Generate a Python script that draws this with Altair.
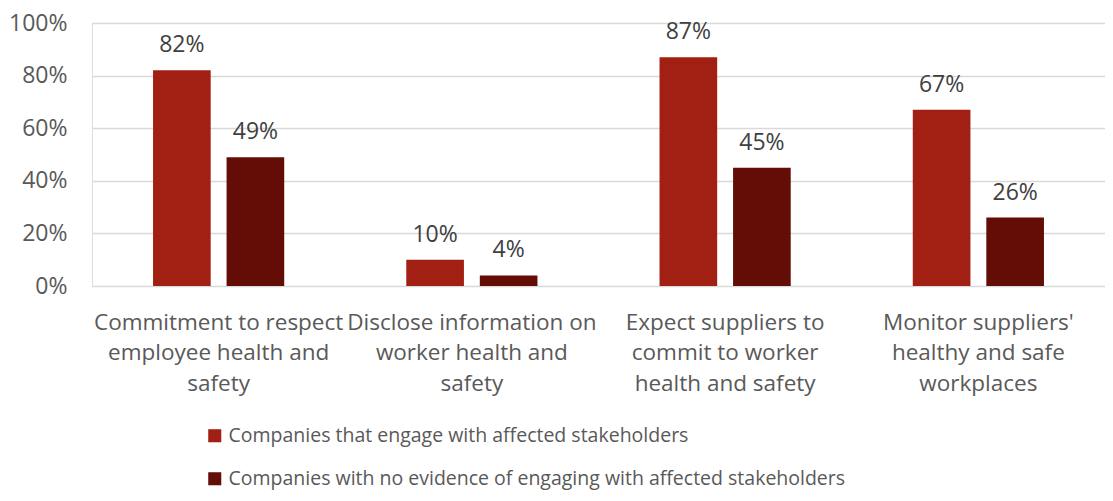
import altair as alt
import pandas as pd

categories = [
    "Commitment to respect\nemployee health and\nsafety",
    "Disclose information on\nworker health and\nsafety",
    "Expect suppliers to\ncommit to worker\nhealth and safety",
    "Monitor suppliers'\nhealthy and safe\nworkplaces",
]
series = [
    "Companies that engage with affected stakeholders",
    "Companies with no evidence of engaging with affected stakeholders",
]
engaged = [0.82, 0.10, 0.87, 0.67]
not_engaged = [0.49, 0.04, 0.45, 0.26]
colors = ["#A21F14", "#630D06"]

rows = []
for c, a, b in zip(categories, engaged, not_engaged):
    rows.append({"category": c, "series": series[0], "value": a})
    rows.append({"category": c, "series": series[1], "value": b})
df = pd.DataFrame(rows)

FONT = "Segoe UI, Open Sans, Noto Sans, sans-serif"

x = alt.X(
    "category:N",
    sort=categories,
    scale=alt.Scale(paddingInner=0.482, paddingOuter=0.241),
    axis=alt.Axis(
        title=None,
        labelAngle=0,
        labelExpr="split(datum.label, '\\n')",
        labelFontSize=22.5,
        labelColor="#595959",
        labelFont=FONT,
        labelLineHeight=30.5,
        labelPadding=25,
        ticks=False,
        domain=False,
        grid=False,
        labelLimit=400,
    ),
)
xoff = alt.XOffset(
    "series:N", sort=series, scale=alt.Scale(paddingInner=0.216, paddingOuter=0)
)
y = alt.Y(
    "value:Q",
    scale=alt.Scale(domain=[0, 1], nice=False),
    axis=alt.Axis(
        title=None,
        format=".0%",
        values=[0, 0.2, 0.4, 0.6, 0.8, 1.0],
        labelFontSize=23,
        labelColor="#595959",
        labelFont=FONT,
        labelPadding=25,
        ticks=False,
        domain=False,
        gridColor="#d9d9d9",
        gridWidth=1.5,
    ),
)
color = alt.Color(
    "series:N",
    sort=series,
    scale=alt.Scale(domain=series, range=colors),
    legend=alt.Legend(
        title=None,
        orient="none",
        legendX=113,
        legendY=403,
        direction="vertical",
        symbolType="square",
        symbolSize=170,
        symbolStrokeWidth=0,
        labelFontSize=19.5,
        labelColor="#595959",
        labelFont=FONT,
        rowPadding=22,
        labelOffset=4,
        labelLimit=1000,
    ),
)

bars = alt.Chart(df).mark_bar().encode(x=x, xOffset=xoff, y=y, color=color)
labels = alt.Chart(df).mark_text(
    baseline="alphabetic", dy=-18, fontSize=23, color="#404040", font=FONT
).encode(
    x=alt.X("category:N", sort=categories),
    xOffset=alt.XOffset("series:N", sort=series),
    y="value:Q",
    text=alt.Text("value:Q", format=".0%"),
)

chart = (
    alt.layer(bars, labels)
    .properties(
        width=1013,
        height=263,
        padding={"left": 84, "top": 15, "right": 0, "bottom": 207},
        autosize=alt.AutoSizeParams(type="none"),
    )
    .configure_view(stroke=None)
    .configure(background="white")
)

chart.save("out.html", embed_options={"renderer": "svg", "actions": False})
